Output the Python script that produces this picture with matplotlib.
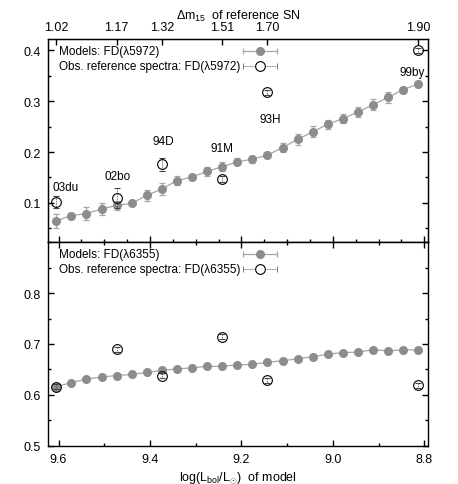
import matplotlib
matplotlib.use("Agg")
import matplotlib.pyplot as plt
from matplotlib.ticker import MultipleLocator, FixedLocator, FormatStrFormatter

plt.rcParams['font.family'] = ['Liberation Sans', 'DejaVu Sans']
plt.rcParams['mathtext.fontset'] = 'custom'
plt.rcParams['mathtext.rm'] = 'Liberation Sans'
plt.rcParams['mathtext.it'] = 'Liberation Sans:italic'
plt.rcParams['font.size'] = 8.5

# --- data ---
model_logL = [9.605, 9.572, 9.539, 9.506, 9.473, 9.440, 9.407, 9.374, 9.341,
              9.308, 9.275, 9.242, 9.209, 9.176, 9.143, 9.110, 9.077, 9.044,
              9.011, 8.978, 8.945, 8.912, 8.879, 8.846, 8.813]
model_fd5972 = [0.065, 0.075, 0.079, 0.088, 0.095, 0.099, 0.115, 0.127, 0.144,
                0.151, 0.162, 0.171, 0.181, 0.186, 0.194, 0.209, 0.225, 0.240,
                0.255, 0.266, 0.279, 0.293, 0.308, 0.323, 0.334]
model_fd5972_err = [0.014, 0.005, 0.012, 0.011, 0.009, 0.004, 0.011, 0.012, 0.009,
                    0.004, 0.009, 0.009, 0.007, 0.007, 0.006, 0.009, 0.011, 0.011,
                    0.009, 0.008, 0.009, 0.011, 0.011, 0.006, 0.005]
model_fd6355 = [0.616, 0.624, 0.631, 0.635, 0.638, 0.640, 0.644, 0.648, 0.651,
                0.653, 0.656, 0.656, 0.659, 0.660, 0.664, 0.667, 0.671, 0.675,
                0.680, 0.683, 0.684, 0.689, 0.686, 0.689, 0.688]
model_fd6355_err = [0.002] * 25

sn_names = ['03du', '02bo', '94D', '91M', '93H', '99by']
sn_dm15 = ['1.02', '1.17', '1.32', '1.51', '1.70', '1.90']
obs_logL = [9.605, 9.473, 9.374, 9.242, 9.143, 8.813]
obs_fd5972 = [0.102, 0.109, 0.176, 0.147, 0.318, 0.400]
obs_fd5972_err = [0.012, 0.020, 0.013, 0.005, 0.005, 0.005]
obs_fd6355 = [0.616, 0.690, 0.638, 0.714, 0.629, 0.619]
obs_fd6355_err = [0.005, 0.005, 0.005, 0.005, 0.005, 0.005]

# label anchor positions (data coords) for the SN names in the top panel
label_x = [9.585, 9.470, 9.371, 9.242, 9.138, 8.826]
label_y = [0.131, 0.153, 0.222, 0.208, 0.265, 0.358]

gray = '#8c8c8c'
gray_line = '#a6a6a6'


def draw_panel(ax, y, yerr, oy, oyerr, label):
    ax.errorbar(model_logL, y, yerr=yerr, fmt='o', color=gray, ms=5.5,
                ecolor=gray_line, elinewidth=0.9, capsize=2.5, capthick=0.9,
                zorder=3)
    ax.plot(model_logL, y, '-', color=gray_line, lw=0.9, zorder=2)
    eb = ax.errorbar(obs_logL, oy, yerr=oyerr, fmt='o', mfc='none', mec='black',
                     mew=0.8, ms=7, ecolor='#444444', elinewidth=0.6,
                     capsize=2, capthick=0.5, zorder=4)
    for coll in eb[2]:
        coll.set_linestyle((0, (1, 1)))

    # gnuplot-like key: text left, sample on the right
    lx, sx0, sx1 = 0.03, 0.513, 0.603
    sxc = 0.5 * (sx0 + sx1)
    rows = [0.941, 0.868]
    ax.text(lx, rows[0], 'Models: FD(λ%s)' % label, transform=ax.transAxes,
            ha='left', va='center')
    ax.text(lx, rows[1], 'Obs. reference spectra: FD(λ%s)' % label,
            transform=ax.transAxes, ha='left', va='center')
    ax.plot([sx0, sx1], [rows[0]] * 2, '-', color=gray_line, lw=0.9,
            transform=ax.transAxes)
    ax.plot([sx0, sx1], [rows[0]] * 2, '|', color=gray_line, ms=5, mew=0.9,
            transform=ax.transAxes)
    ax.plot([sxc], [rows[0]], 'o', color=gray, ms=5.5, transform=ax.transAxes)
    ax.plot([sx0, sx1], [rows[1]] * 2, color='#444444', lw=0.6,
            linestyle=(0, (1, 1)), transform=ax.transAxes)
    ax.plot([sx0, sx1], [rows[1]] * 2, '|', color='#444444', ms=5, mew=0.5,
            transform=ax.transAxes)
    ax.plot([sxc], [rows[1]], 'o', mfc='white', mec='black', mew=0.8, ms=7,
            transform=ax.transAxes)

    ax.set_xlim(9.623, 8.792)
    ax.tick_params(which='both', direction='in', top=True, right=True,
                   labelsize=9, width=1.0, pad=5)
    ax.tick_params(which='major', length=4.5)
    ax.tick_params(which='minor', length=2.5)
    ax.xaxis.set_major_locator(MultipleLocator(0.2))
    ax.yaxis.set_major_locator(MultipleLocator(0.1))
    ax.yaxis.set_minor_locator(MultipleLocator(0.05))
    for sp in ax.spines.values():
        sp.set_linewidth(1.0)


fig = plt.figure(figsize=(4.58, 4.85), dpi=100)
ax1 = fig.add_axes([0.1048, 0.4984, 0.8297, 0.4191])
ax2 = fig.add_axes([0.1048, 0.0790, 0.8297, 0.4194])

draw_panel(ax1, model_fd5972, model_fd5972_err, obs_fd5972, obs_fd5972_err, '5972')
draw_panel(ax2, model_fd6355, model_fd6355_err, obs_fd6355, obs_fd6355_err, '6355')

ax1.set_ylim(0.0225, 0.4225)
ax1.xaxis.set_minor_locator(MultipleLocator(0.05))
ax1.tick_params(axis='x', which='both', top=False, labelbottom=False)
ax1.yaxis.set_major_locator(FixedLocator([0.1, 0.2, 0.3, 0.4]))

for name, x, y in zip(sn_names, label_x, label_y):
    ax1.text(x, y, name, ha='center', va='center', fontsize=8.5)

top = ax1.twiny()
top.set_xlim(ax1.get_xlim())
top.set_xticks(obs_logL)
top.set_xticklabels(sn_dm15)
top.tick_params(direction='in', length=4.5, width=1.0, labelsize=9, pad=4)
top.set_xlabel(r'$\Delta$m$_{15}$  of reference SN', fontsize=9, labelpad=2)

ax2.set_ylim(0.5, 0.9)
ax2.yaxis.set_major_locator(FixedLocator([0.5, 0.6, 0.7, 0.8]))
ax2.xaxis.set_minor_locator(MultipleLocator(0.1))
ax2.xaxis.set_major_formatter(FormatStrFormatter('%.1f'))
ax2.set_xlabel(r'log(L$_{\mathrm{bol}}$/L$_{\odot}$)  of model', fontsize=9,
               labelpad=3)

fig.savefig('out.png', dpi=100)
